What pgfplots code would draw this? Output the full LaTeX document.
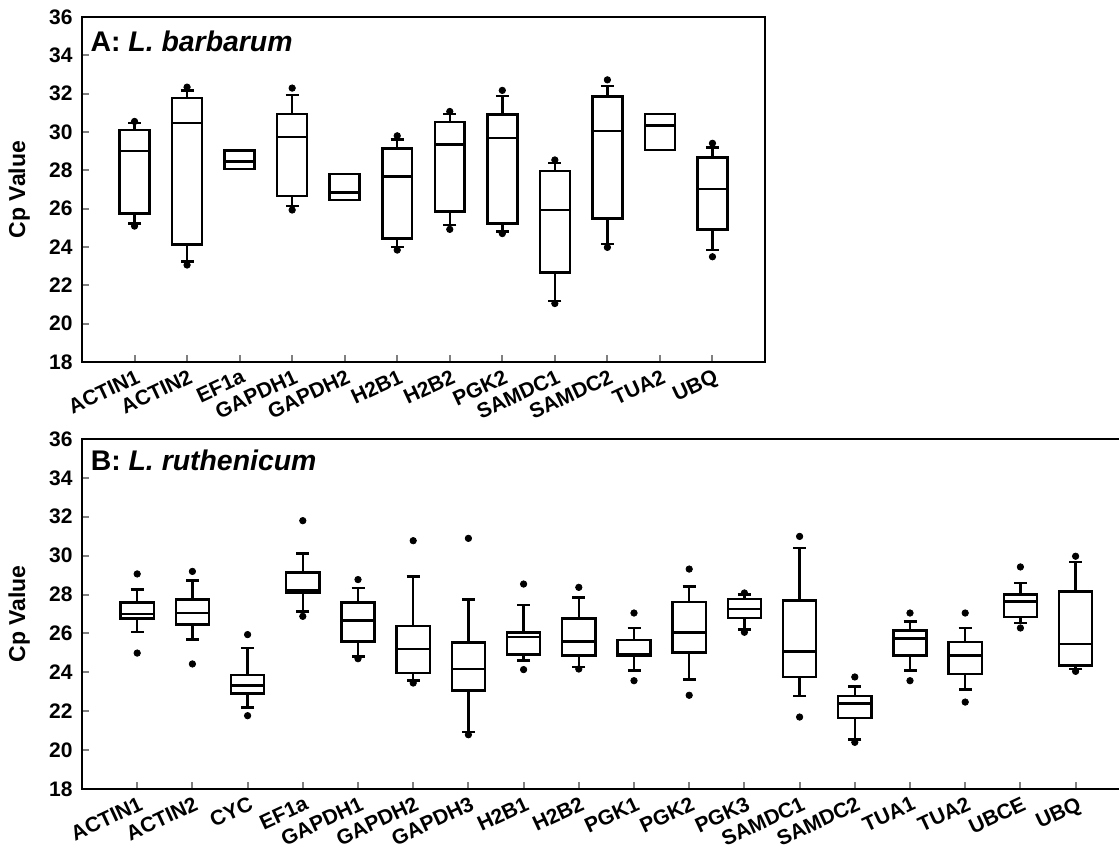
\documentclass[border=0pt]{standalone}
\usepackage{fontspec}
\setmainfont{Liberation Sans}
\usepackage{pgfplots}
\usepackage{pgfplotstable}
\pgfplotsset{compat=1.18}

% pos, whiskers (lw/uw), quartiles (lq/uq), median, extreme points (lo/hi)
\pgfplotstableread{
pos lw    lq    med   uq    uw    lo    hi
1   25.23 25.76 29.01 30.11 30.46 25.09 30.55
2   23.23 24.14 30.46 31.77 32.17 23.06 32.34
3   28.07 28.07 28.46 29.03 29.03 nan   nan
4   26.14 26.66 29.73 30.93 31.94 25.93 32.29
5   26.45 26.45 26.84 27.81 27.81 nan   nan
6   24.01 24.45 27.67 29.15 29.62 23.84 29.80
7   25.15 25.84 29.36 30.51 30.95 24.92 31.07
8   24.80 25.23 29.68 30.90 31.89 24.70 32.17
9   21.19 22.66 25.93 27.97 28.37 21.05 28.54
10  24.15 25.49 30.06 31.84 32.41 23.98 32.72
11  29.07 29.07 30.34 30.95 30.95 nan   nan
12  23.84 24.92 27.03 28.67 29.19 23.49 29.41
}\dataA

\pgfplotstableread{
pos lw    lq    med   uq    uw    lo    hi
1   26.07 26.76 27.00 27.60 28.25 24.99 29.06
2   25.68 26.45 27.05 27.74 28.71 24.43 29.19
3   22.20 22.90 23.31 23.85 25.25 21.77 25.94
4   27.14 28.08 28.20 29.14 30.10 26.88 31.80
5   24.82 25.59 26.66 27.60 28.34 24.70 28.77
6   23.59 23.97 25.20 26.37 28.94 23.45 30.77
7   20.93 23.06 24.17 25.54 27.74 20.79 30.89
8   24.62 24.91 25.82 26.06 27.45 24.14 28.54
9   24.27 24.87 25.59 26.76 27.86 24.17 28.37
10  24.10 24.87 24.95 25.65 26.28 23.57 27.05
11  23.62 25.03 26.06 27.62 28.42 22.82 29.31
12  26.19 26.79 27.26 27.77 27.99 26.06 28.08
13  22.77 23.76 25.08 27.70 30.39 21.70 30.99
14  20.54 21.65 22.39 22.77 23.28 20.40 23.76
15  24.09 24.86 25.73 26.14 26.62 23.57 27.05
16  23.11 23.91 24.87 25.56 26.28 22.47 27.05
17  26.54 26.85 27.65 27.99 28.59 26.28 29.42
18  24.17 24.34 25.46 28.15 29.67 24.05 29.97
}\dataB

\pgfplotsset{
  cpaxis/.style={
    scale only axis,
    ymin=18, ymax=36, ytick={18,20,...,36},
    axis line style={line width=1.4pt},
    every tick/.append style={line width=1pt},
    major tick length=3.5pt,
    tick pos=left, tick align=inside,
    /pgf/number format/assume math mode=true,
    yticklabel style={font=\bfseries\fontsize{10.5}{10.5}\selectfont, inner sep=1.5pt, xshift=-3pt},
    xticklabel style={font=\bfseries\fontsize{10.5}{10.5}\selectfont, rotate=25, anchor=north east, inner sep=1pt, yshift=-2pt},
    ylabel={Cp Value},
    ylabel style={font=\bfseries\fontsize{11.5}{11.5}\selectfont, anchor=south},
  },
  whisk/.style={draw=none, mark=none,
    error bars/y explicit,
    error bars/error mark=-,
    error bars/error mark options={draw=black, line width=1.25pt, mark size=3.25pt, rotate=90},
    error bars/error bar style={draw=black, line width=1.25pt}},
  side/.style={draw=none, mark=none,
    error bars/y dir=plus, error bars/y explicit,
    error bars/error mark=none,
    error bars/error bar style={draw=black, line width=1.25pt, line cap=rect}},
  hline/.style={only marks, mark=-, mark options={black, line width=1.25pt, line cap=rect}},
  dots/.style={only marks, mark=*, mark size=1.6pt, mark options={black, fill=black}},
}

% #1 table, #2 half box width in axis units, #3 same in pt
\newcommand{\cpboxes}[3]{%
  \addplot[whisk, error bars/y dir=plus] table[x=pos, y=uq, y error plus expr=\thisrow{uw}-\thisrow{uq}] {#1};
  \addplot[whisk, error bars/y dir=minus] table[x=pos, y=lq, y error minus expr=\thisrow{lq}-\thisrow{lw}] {#1};
  \addplot[side] table[x expr=\thisrow{pos}-#2, y=lq, y error plus expr=\thisrow{uq}-\thisrow{lq}] {#1};
  \addplot[side] table[x expr=\thisrow{pos}+#2, y=lq, y error plus expr=\thisrow{uq}-\thisrow{lq}] {#1};
  \addplot[hline, mark size=#3] table[x=pos, y=lq] {#1};
  \addplot[hline, mark size=#3] table[x=pos, y=med] {#1};
  \addplot[hline, mark size=#3] table[x=pos, y=uq] {#1};
  \addplot[dots] table[x=pos, y=lo] {#1};
  \addplot[dots] table[x=pos, y=hi] {#1};
}

\begin{document}
\begin{tikzpicture}
\path[use as bounding box] (0,0) rectangle (559.5pt,430pt);

% panel A
\begin{axis}[cpaxis,
  at={(41pt,249pt)}, anchor=south west,
  width=341.5pt, height=172.5pt,
  xmin=0, xmax=13, xtick={1,...,12},
  xticklabels={ACTIN1,ACTIN2,EF1a,GAPDH1,GAPDH2,H2B1,H2B2,PGK2,SAMDC1,SAMDC2,TUA2,UBQ},
  ylabel style={at={(axis description cs:-0.066,0.5)}},
]
\cpboxes{\dataA}{0.285}{7.49pt}
\node[anchor=north west, font=\bfseries\fontsize{14.2}{14.2}\selectfont, inner sep=0pt]
  at (rel axis cs:0.012,0.96) {A: \textit{L. barbarum}};
\end{axis}

% panel B
\begin{axis}[cpaxis,
  at={(41pt,35.5pt)}, anchor=south west,
  width=524.4pt, height=175pt,
  xmin=0, xmax=19, xtick={1,...,18},
  xticklabels={ACTIN1,ACTIN2,CYC,EF1a,GAPDH1,GAPDH2,GAPDH3,H2B1,H2B2,PGK1,PGK2,PGK3,SAMDC1,SAMDC2,TUA1,TUA2,UBCE,UBQ},
  ylabel style={at={(axis description cs:-0.043,0.5)}},
]
\cpboxes{\dataB}{0.3}{8.28pt}
\node[anchor=north west, font=\bfseries\fontsize{14.2}{14.2}\selectfont, inner sep=0pt]
  at (rel axis cs:0.008,0.97) {B: \textit{L. ruthenicum}};
\end{axis}
\end{tikzpicture}
\end{document}
